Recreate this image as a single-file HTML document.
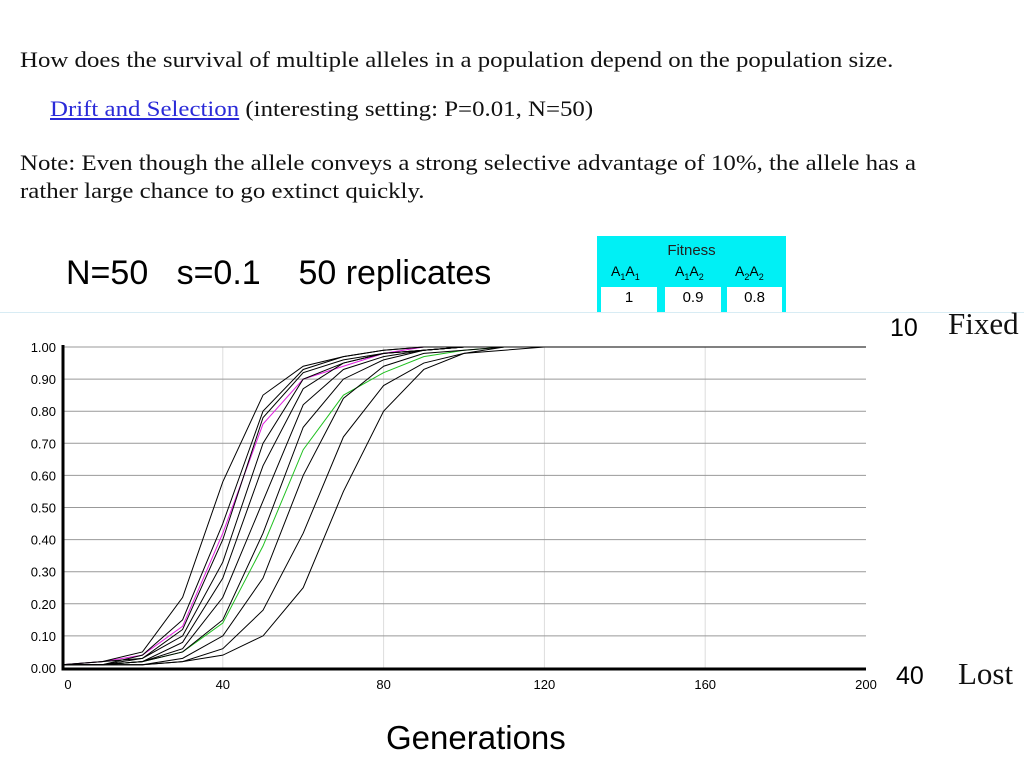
<!DOCTYPE html>
<html><head><meta charset="utf-8"><style>
body{margin:0;width:1024px;height:768px;background:#fff;position:relative;overflow:hidden}
.s{font-family:"Liberation Serif",serif;position:absolute;color:#111;white-space:nowrap}
.w{font-size:22px;transform:scaleX(1.13);transform-origin:0 0}
.a{font-family:"Liberation Sans",sans-serif;position:absolute;color:#000;white-space:nowrap}
</style></head><body>
<div class="s w" style="left:20px;top:47px">How does the survival of multiple alleles in a population depend on the population size.</div>
<div class="s w" style="left:50px;top:96px"><a href="#" style="color:#2a2ad8">Drift and Selection</a> (interesting setting: P=0.01, N=50)</div>
<div class="s w" style="left:20px;top:149px;line-height:28px">Note: Even though the allele conveys a strong selective advantage of 10%, the allele has a<br>rather large chance to go extinct quickly.</div>
<div class="a" style="left:66px;top:254px;font-size:34px">N=50&nbsp;&nbsp;&nbsp;s=0.1&nbsp;&nbsp;&nbsp;&nbsp;50 replicates</div>
<div style="position:absolute;left:597px;top:236px;width:189px;height:76px;background:#00f0f5">
 <div class="a" style="left:0;width:189px;text-align:center;top:6px;font-size:15px;color:#222">Fitness</div>
 <div class="a" style="left:14px;top:27px;font-size:14px">A<sub style="font-size:9px">1</sub>A<sub style="font-size:9px">1</sub></div>
 <div class="a" style="left:78px;top:27px;font-size:14px">A<sub style="font-size:9px">1</sub>A<sub style="font-size:9px">2</sub></div>
 <div class="a" style="left:138px;top:27px;font-size:14px">A<sub style="font-size:9px">2</sub>A<sub style="font-size:9px">2</sub></div>
 <div class="a" style="left:4px;top:51px;width:56px;height:25px;background:#fff;text-align:center;font-size:15px;line-height:22px">1</div>
 <div class="a" style="left:68px;top:51px;width:56px;height:25px;background:#fff;text-align:center;font-size:15px;line-height:22px">0.9</div>
 <div class="a" style="left:130px;top:51px;width:55px;height:25px;background:#fff;text-align:center;font-size:15px;line-height:22px">0.8</div>
</div>
<div style="position:absolute;left:0;top:312px;width:1024px;height:1px;background:#d8ecf4"></div>
<div class="a" style="left:890px;top:314px;font-size:25px">10</div>
<div class="s" style="left:948px;top:306px;font-size:31px">Fixed</div>
<div class="a" style="left:896px;top:662px;font-size:25px">40</div>
<div class="s" style="left:958px;top:656px;font-size:31px">Lost</div>
<div class="a" style="left:386px;top:719px;font-size:33px">Generations</div>
<svg id="ch" width="1024" height="768" style="position:absolute;left:0;top:0" font-family="Liberation Sans, sans-serif"></svg>
<script>
const gens=[0,10,20,30,40,50,60,70,80,90,100,110,120];
const black=[
[.01,.02,.05,.22,.58,.85,.94,.97,.99,1,1,1,1],
[.01,.01,.04,.15,.45,.80,.93,.97,.99,1,1,1,1],
[.01,.02,.03,.12,.40,.78,.92,.96,.98,.99,1,1,1],
[.01,.01,.03,.10,.33,.70,.90,.95,.98,.99,1,1,1],
[.01,.01,.02,.08,.28,.63,.87,.95,.98,.99,1,1,1],
[.01,.01,.02,.06,.22,.52,.82,.93,.97,.99,1,1,1],
[.01,.01,.02,.05,.15,.42,.75,.90,.96,.99,1,1,1],
[.01,.01,.01,.03,.10,.28,.60,.84,.94,.98,.99,1,1],
[.01,.01,.01,.02,.06,.18,.42,.72,.88,.95,.98,1,1],
[.01,.01,.01,.02,.04,.10,.25,.55,.80,.93,.98,.99,1]];
const magenta=[.01,.02,.04,.13,.42,.76,.90,.94,.98,1,1,1,1];
const green=[.01,.01,.02,.05,.14,.38,.68,.85,.92,.97,.99,1,1];
const yTicks=[0,.1,.2,.3,.4,.5,.6,.7,.8,.9,1];
const xTicks=[0,40,80,120,160,200];
const X=g=>62+g*4.02, Y=v=>668-v*321;
const svg=document.getElementById('ch'),NS='http://www.w3.org/2000/svg';
function el(t,a,txt){const e=document.createElementNS(NS,t);for(const k in a)e.setAttribute(k,a[k]);if(txt!=null)e.textContent=txt;svg.appendChild(e);return e;}
xTicks.slice(1,-1).forEach(g=>{const e=el('line',{x1:X(g),x2:X(g),y1:Y(1),y2:Y(0),stroke:'#ddd'});

});
yTicks.forEach(v=>{const e=el('line',{x1:62,x2:866,y1:Y(v),y2:Y(v),stroke:'#999'});


const t=el('text',{x:56,y:Y(v)+5,'text-anchor':'end','font-size':13},v.toFixed(2));

});
xTicks.forEach(g=>{const t=el('text',{x:X(g)+(g==0?6:0),y:689,'text-anchor':'middle','font-size':13},g);

});
function line(vals,c,n){const pts=vals.map((v,i)=>X(gens[i])+','+Y(v)).join(' ')+' '+X(200)+','+Y(vals[vals.length-1]);
const p=el('polyline',{points:pts,fill:'none',stroke:c,'stroke-width':1});

}
line(magenta,'#e020e0','replicate-line-magenta');
line(green,'#20c020','replicate-line-green');
black.forEach(v=>line(v,'#000','replicate-line'));
const ax=el('path',{d:`M63 ${Y(1)-2} V669 H866`,fill:'none',stroke:'#000','stroke-width':3});


</script>
</body></html>
